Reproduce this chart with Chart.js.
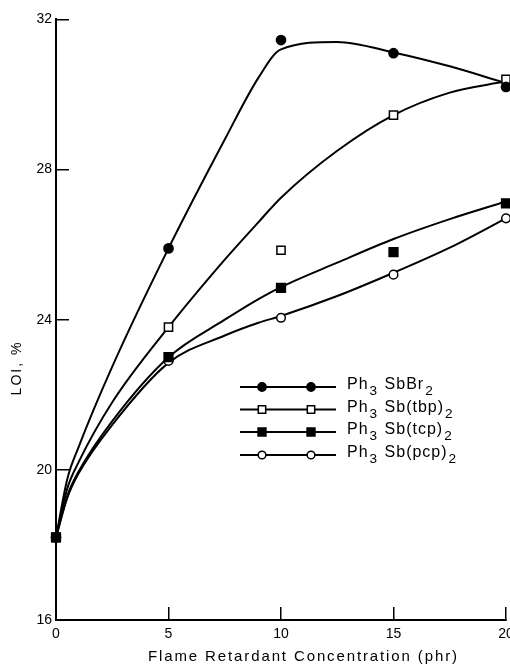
<!DOCTYPE html>
<html><head><meta charset="utf-8">
<script src="https://cdn.jsdelivr.net/npm/chart.js@4/dist/chart.umd.min.js"></script>
<style>
html,body{margin:0;padding:0;background:#fff;overflow:hidden;width:510px;height:667px}
#wrap{position:relative;width:540px;height:667px;overflow:hidden}
#c{position:absolute;left:0;top:-6px}
</style>
</head><body><div id="wrap"><canvas id="c" width="540" height="673"></canvas></div>
<script>
// ---- data ----
const seriesNames = ["Ph_3 SbBr_2", "Ph_3 Sb(tbp)_2", "Ph_3 Sb(tcp)_2", "Ph_3 Sb(pcp)_2"];
const concentration = [0, 5, 10, 15, 20];
const loiBr2 = [18.2, 25.9, 31.45, 31.1, 30.2];
const loiTbp = [18.2, 23.8, 25.85, 29.45, 30.4];
const loiTcp = [18.2, 23.0, 24.85, 25.8, 27.1];
const loiPcp = [18.2, 22.9, 24.05, 25.2, 26.7];
// hand-drawn fitted curves, read at these concentrations
const curveX   = [0, 0.5, 1, 2.5, 5, 7.5, 9, 10, 12.5, 15, 17.5, 20];
const curveBr2 = [18.2, 19.75, 20.6, 22.75, 25.9, 28.8, 30.45, 31.2, 31.4, 31.12, 30.75, 30.3];
const curveTbp = [18.2, 19.5, 20.2, 21.8, 23.8, 25.6, 26.6, 27.25, 28.5, 29.45, 30.05, 30.35];
const curveTcp = [18.2, 19.3, 19.95, 21.3, 23.0, 24.0, 24.55, 24.87, 25.52, 26.15, 26.68, 27.15];
const curvePcp = [18.2, 19.25, 19.9, 21.2, 22.85, 23.58, 23.92, 24.1, 24.63, 25.25, 25.92, 26.7];
const xTicks = [0, 5, 10, 15, 20];
const yTicks = [16, 20, 24, 28, 32];
const xTitle = "Flame Retardant Concentration (phr)";
const yTitle = "LOI, %";

// ---- styles ----
const FONT = "'Liberation Sans', Arial, sans-serif";
const SHIFT = 6; // canvas is shifted up by this many pixels
const styles = [
  {pointStyle: 'circle', radius: 4.6, fill: '#000'},
  {pointStyle: 'rect', radius: 5.8, fill: '#fff'},
  {pointStyle: 'rect', radius: 6.2, fill: '#000'},
  {pointStyle: 'circle', radius: 4.3, fill: '#fff'}
];
const markerVals = [loiBr2, loiTbp, loiTcp, loiPcp];
const curveVals = [curveBr2, curveTbp, curveTcp, curvePcp];

const toXY = (xs, ys) => xs.map((x, i) => ({x: x, y: ys[i]}));

// marker datasets first (drawn on top): Br2, tcp, tbp, pcp
const drawOrder = [0, 2, 1, 3];
const datasets = [];
drawOrder.forEach(i => {
  datasets.push({
    label: seriesNames[i],
    data: toXY(concentration, markerVals[i]),
    showLine: false,
    pointStyle: styles[i].pointStyle,
    pointRadius: styles[i].radius,
    pointBackgroundColor: styles[i].fill,
    pointBorderColor: '#000',
    pointBorderWidth: 1.5,
    clip: false
  });
});
for (let i = 0; i < 4; i++) {
  datasets.push({
    label: seriesNames[i] + ' curve',
    data: toXY(curveX, curveVals[i]),
    borderColor: '#000',
    borderWidth: 2,
    pointRadius: 0,
    cubicInterpolationMode: 'monotone',
    fill: false
  });
}

function drawRich(ctx, text, x, y, size) {
  const parts = text.split(/_(\d)/);
  let cx = x;
  parts.forEach((p, k) => {
    if (k % 2 === 1) {
      ctx.font = (size * 0.85) + 'px ' + FONT;
      ctx.fillText(p, cx + 1, y + size * 0.42);
      cx += ctx.measureText(p).width + 2;
    } else {
      ctx.font = size + 'px ' + FONT;
      ctx.fillText(p, cx, y);
      cx += ctx.measureText(p).width;
    }
  });
}

const decor = {
  id: 'decor',
  afterDraw(chart) {
    const ctx = chart.ctx;
    const H = Chart.helpers;
    ctx.save();
    ctx.translate(0, SHIFT);
    // legend
    const rows = [387, 409.5, 432, 455];
    for (let i = 0; i < 4; i++) {
      const y = rows[i];
      ctx.strokeStyle = '#000';
      ctx.lineWidth = 2;
      ctx.beginPath(); ctx.moveTo(240, y); ctx.lineTo(336, y); ctx.stroke();
      [262, 311].forEach(px => {
        ctx.fillStyle = styles[i].fill;
        ctx.strokeStyle = '#000';
        ctx.lineWidth = 1.5;
        H.drawPoint(ctx, {pointStyle: styles[i].pointStyle, rotation: 0,
          radius: styles[i].radius * 0.9, borderWidth: 1.5}, px, y);
      });
      ctx.fillStyle = '#000';
      ctx.textBaseline = 'middle';
      ctx.textAlign = 'left';
      if ('letterSpacing' in ctx) ctx.letterSpacing = '1px';
      drawRich(ctx, seriesNames[i], 347, y - 2, 16);
      if ('letterSpacing' in ctx) ctx.letterSpacing = '0px';
    }
    // x title
    ctx.fillStyle = '#000';
    ctx.font = '15px ' + FONT;
    ctx.textBaseline = 'middle';
    ctx.textAlign = 'left';
    const w0 = ctx.measureText(xTitle).width;
    const ls = (309 - w0) / (xTitle.length - 1);
    if ('letterSpacing' in ctx) ctx.letterSpacing = ls + 'px';
    ctx.fillText(xTitle, 148, 657);
    // y title
    ctx.font = '14px ' + FONT;
    ctx.textAlign = 'center';
    if ('letterSpacing' in ctx) ctx.letterSpacing = '2px';
    ctx.translate(17, 368);
    ctx.rotate(-Math.PI / 2);
    ctx.fillText(yTitle, 0, 0);
    ctx.restore();
  }
};

new Chart(document.getElementById('c'), {
  type: 'line',
  data: {datasets: datasets},
  options: {
    responsive: false,
    animation: false,
    devicePixelRatio: 1,
    layout: {padding: {top: 12, right: 34, bottom: 0, left: 0}},
    plugins: {legend: {display: false}, tooltip: {enabled: false}},
    scales: {
      x: {
        type: 'linear', min: 0, max: 20,
        afterBuildTicks: s => { s.ticks = xTicks.map(v => ({value: v})); },
        afterFit: s => { s.height = 47; },
        ticks: {color: '#000', font: {size: 14, family: FONT}, padding: 19, maxRotation: 0},
        grid: {drawOnChartArea: false, color: '#000', lineWidth: 1.5, tickLength: -13},
        border: {display: true, color: '#000', width: 2}
      },
      y: {
        type: 'linear', min: 16, max: 32,
        afterBuildTicks: s => { s.ticks = yTicks.map(v => ({value: v})); },
        afterFit: s => { s.width = 56; },
        ticks: {color: '#000', font: {size: 14, family: FONT}, padding: 17},
        grid: {drawOnChartArea: false, color: '#000', lineWidth: 1.5, tickLength: -13},
        border: {display: true, color: '#000', width: 2}
      }
    }
  },
  plugins: [decor]
});
</script>
</body></html>
